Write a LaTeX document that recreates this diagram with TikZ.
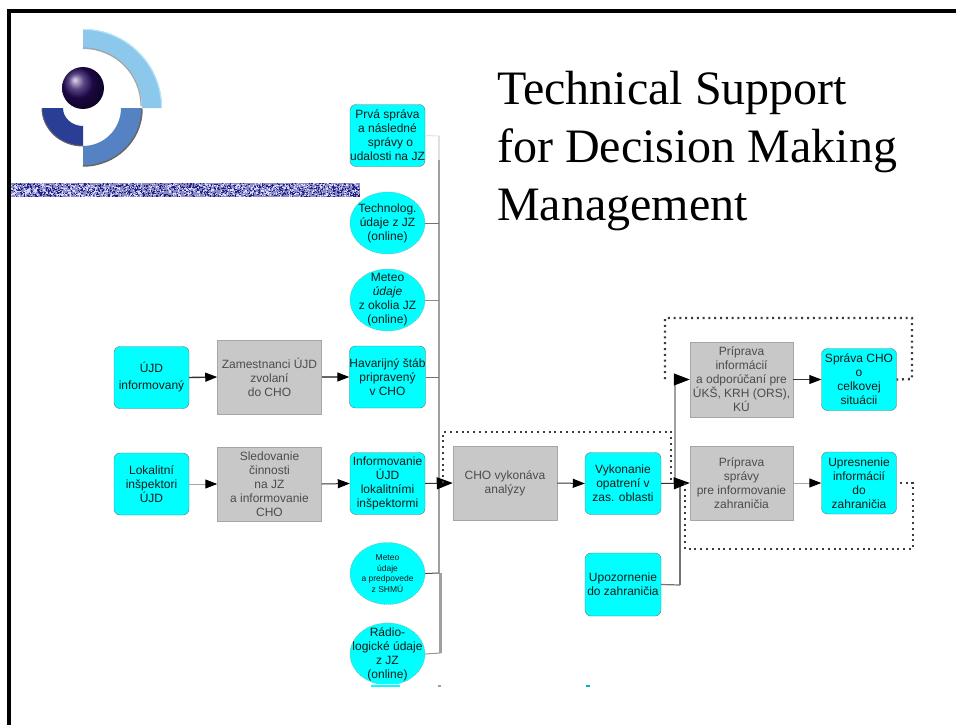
\documentclass[tikz,border=0pt]{standalone}
\usepackage{fontspec}
\setmainfont{Liberation Sans}
\newfontfamily\titlefont{Liberation Serif}
\usetikzlibrary{arrows.meta,shapes.geometric}
\definecolor{boxcyan}{HTML}{00FFFF}
\definecolor{boxgray}{HTML}{C8C8C8}
\definecolor{linegray}{HTML}{A0A0A0}
\definecolor{dotgray}{HTML}{3C3C3C}
\tikzset{
  every node/.style={font=\fontsize{12}{14}\selectfont, align=center, inner sep=0pt},
  cyanbox/.style={draw=black!55, line width=0.4pt, fill=boxcyan, rounded corners=6pt, minimum width=75pt, minimum height=62pt, text=black!90},
  cyanoval/.style={ellipse, draw=black!40, dash pattern=on 1pt off 1pt, line width=0.4pt, fill=boxcyan, minimum width=75pt, minimum height=62pt},
  ovaltext/.style={text=black!90},
  graybox/.style={draw=black!35, line width=0.5pt, fill=boxgray, minimum width=104pt, minimum height=74pt, text=black!70},
  flow/.style={line width=1pt, draw=black!80, -{Triangle[length=12pt,width=9pt,black]}},
  bigflow/.style={line width=1pt, draw=black!80, -{Triangle[length=16pt,width=12pt,black]}},
  trunk/.style={line width=1.6pt, draw=linegray},
  stub/.style={line width=1pt, draw=black!55},
  dotted frame/.style={line width=2.4pt, draw=dotgray, dash pattern=on 2pt off 3.8pt},
  titletext/.style={font=\titlefont\fontsize{48}{58}\selectfont, align=left, anchor=north west, text=black}
}
\begin{document}
\begin{tikzpicture}[x=1pt,y=-1pt]
\useasboundingbox (0,0) rectangle (956,725);
\fill[white] (0,0) rectangle (956,725);
% frame
\fill[black] (7,9) rectangle (956,13);
\fill[black] (7,9) rectangle (11,725);
% band
\fill[color={rgb,255:red,140;green,140;blue,195}] (11,183) rectangle (360,197);
\pgfmathsetseed{42}
\foreach \i in {1,...,1300}{
  \pgfmathsetmacro{\px}{11+347.5*rnd}
  \pgfmathsetmacro{\py}{183+12.8*rnd}
  \fill[color={rgb,255:red,35;green,35;blue,135}] (\px,\py) rectangle ++(1.2,1.2);
}
\foreach \i in {1,...,800}{
  \pgfmathsetmacro{\px}{11+347.5*rnd}
  \pgfmathsetmacro{\py}{183+12.8*rnd}
  \fill[white!85!blue] (\px,\py) rectangle ++(1.2,1.2);
}
% logo
\fill[color={rgb,255:red,140;green,200;blue,235}] (83,29) arc[start angle=90,end angle=0,x radius=79,y radius=-79] -- (142,108) arc[start angle=0,end angle=90,x radius=59,y radius=-59] -- cycle;
\draw[black!35,line width=1.2pt] (141,106) arc[start angle=0,end angle=90,x radius=58,y radius=-58];
\draw[white!70!cyan,line width=1pt] (83,29.5) arc[start angle=90,end angle=0,x radius=78.5,y radius=-78.5];
\fill[color={rgb,255:red,85;green,130;blue,195}] (142,108) arc[start angle=0,end angle=-90,x radius=59,y radius=-58] -- (83,146) arc[start angle=-90,end angle=0,x radius=38,y radius=-38] -- cycle;
\draw[black!60,line width=1.5pt] (142,109) arc[start angle=0,end angle=-90,x radius=59,y radius=-57];
\fill[color={rgb,255:red,42;green,62;blue,150}] (83,146) arc[start angle=-90,end angle=-180,x radius=41,y radius=-38] -- (63,108) arc[start angle=-180,end angle=-90,x radius=20,y radius=-18] -- cycle;
\draw[black!60,line width=1pt] (42,108) arc[start angle=-180,end angle=-90,x radius=41,y radius=-38];
\shade[ball color={rgb,255:red,38;green,10;blue,95}] (83,88) circle[radius=21];
% title
\node[titletext] (title) at (497,71) {Technical Support\\for Decision Making\\Management};
% nodes
\node[cyanbox] (prva) at (387.5,135.5) {Prvá správa\\a následné\\\hspace{6pt}správy o\\udalosti na JZ};
\node[cyanoval] (tech) at (387.5,223) {};
\node[ovaltext] (techt) at (tech) {Technolog.\\údaje z JZ\\(online)};
\node[cyanoval] (met) at (387.5,300) {};
\node[ovaltext] (mett) at (met) {Meteo\\\textit{údaje}\\z okolia JZ\\(online)};
\node[cyanbox] (uji) at (151.5,377.5) {ÚJD\\[3pt]informovaný};
\node[graybox] (zam) at (269.5,377) {Zamestnanci ÚJD\\zvolaní\\do CHO};
\node[cyanbox] (hav) at (387.5,377) {Havarijný štáb\\pripravený\\v CHO};
\node[cyanbox] (lok) at (151.5,484) {Lokalitní\\inšpektori\\ÚJD};
\node[graybox] (sle) at (269.5,484) {Sledovanie\\činnosti\\na JZ\\a informovanie\\CHO};
\node[cyanbox] (inf) at (387.5,483.5) {Informovanie\\ÚJD\\lokalitními\\inšpektormi};
\node[graybox] (ana) at (505,483) {CHO vykonáva\\analýzy};
\node[cyanbox,minimum width=76pt] (vyk) at (623,483.5) {Vykonanie\\opatrení v\\zas. oblasti};
\node[graybox,minimum width=103pt,minimum height=75pt] (pin) at (741.5,379.5) {Príprava\\informácií\\a odporúčaní pre\\ÚKŠ, KRH (ORS),\\KÚ};
\node[cyanbox] (spr) at (859,379.5) {Správa CHO\\o\\celkovej\\situácii};
\node[graybox,minimum width=103pt] (psp) at (741.5,483) {Príprava\\správy\\pre informovanie\\zahraničia};
\node[cyanbox] (upr) at (859,483) {Upresnenie\\informácií\\do\\zahraničia};
\node[cyanbox,minimum width=76pt,minimum height=63pt] (upo) at (623,584.5) {Upozornenie\\do zahraničia};
\node[cyanoval] (msh) at (387.5,573.5) {};
\node[ovaltext,font=\fontsize{8.5}{10.5}\selectfont] (msht) at (msh) {Meteo\\údaje\\a predpovede\\z SHMÚ};
\node[cyanoval] (rad) at (387.5,654) {};
\node[ovaltext] (radt) at (rad) {Rádio-\\logické údaje\\z JZ\\(online)};
% trunk
\coordinate (t1) at (439,136);
\coordinate (t2) at (439,223);
\coordinate (t3) at (439,300);
\coordinate (t4) at (439,377);
\coordinate (t5) at (439,573);
\coordinate (t6) at (440.5,653);
\coordinate (t7) at (440.5,573);
\draw[trunk,draw=black!12] (t1) -- (439,160);
\draw[trunk] (439,160) -- (t5);
\draw[trunk,line width=2.4pt] (t7) -- (t6);
\draw[stub,draw=black!10] (prva.east) -- (t1);
\draw[stub] (tech.east) -- (t2);
\draw[stub,draw=black!45] (met.east) -- (t3);
\draw[stub] (hav.east) -- (t4);
\draw[stub,draw=black!70] (msh.east) -- (t5);
\draw[stub,draw=black!40] (rad.east) -- (t6);
% cut-off bottom
\fill[white] (340,684) rectangle (460,700);
\fill[boxcyan] (371,684.8) rectangle (400,686.5);
\fill[linegray] (438,684.8) rectangle (441,686.5);
\fill[boxcyan!70!black] (586,684.8) rectangle (590,686.5);
% flow
\draw[flow,line width=1.4pt] (uji.east) -- (zam.west);
\draw[flow,line width=1.4pt,draw=black!60] (zam.east) -- (hav.west);
\draw[flow,draw=black!35] (lok.east) -- (sle.west);
\draw[flow] (sle.east) -- (inf.west);
\draw[bigflow] (inf.east) -- (ana.west);
\draw[flow] (ana.east) -- (vyk.west);
\coordinate (j1) at (675,483);
\coordinate (j2) at (675,379.5);
\coordinate (j3) at (680,585);
\coordinate (j4) at (680,484);
\draw[line width=2pt,draw=linegray] (j1) -- (j2);
\draw[line width=1.2pt,draw=black!55] (upo.east) -- (j3);
\draw[line width=2pt,draw=black!55] (j3) -- (j4);
\draw[bigflow,draw=linegray] (j2) -- (pin.west);
\draw[bigflow] (vyk.east) -- (psp.west);
\draw[flow] (pin.east) -- (spr.west);
\draw[flow,draw=black!35] (psp.east) -- (upr.west);
% dotted frames
\coordinate (d1a) at (665,379);
\coordinate (d1b) at (665,318);
\coordinate (d1c) at (912,318);
\coordinate (d1d) at (912,379);
\draw[dotted frame] (d1a) -- (d1b) -- (d1c) -- (d1d) -- (spr.east);
\coordinate (d2a) at (443,483);
\coordinate (d2b) at (443,432);
\coordinate (d2c) at (671,432);
\coordinate (d2d) at (671,483);
\draw[dotted frame] (d2a) -- (d2b) -- (d2c) -- (d2d);
\coordinate (d3a) at (685,483);
\coordinate (d3b) at (685,549);
\coordinate (d3c) at (913,549);
\coordinate (d3d) at (913,483);
\draw[dotted frame] (d3a) -- (d3b) -- (d3c) -- (d3d) -- (upr.east);
\end{tikzpicture}
\end{document}
